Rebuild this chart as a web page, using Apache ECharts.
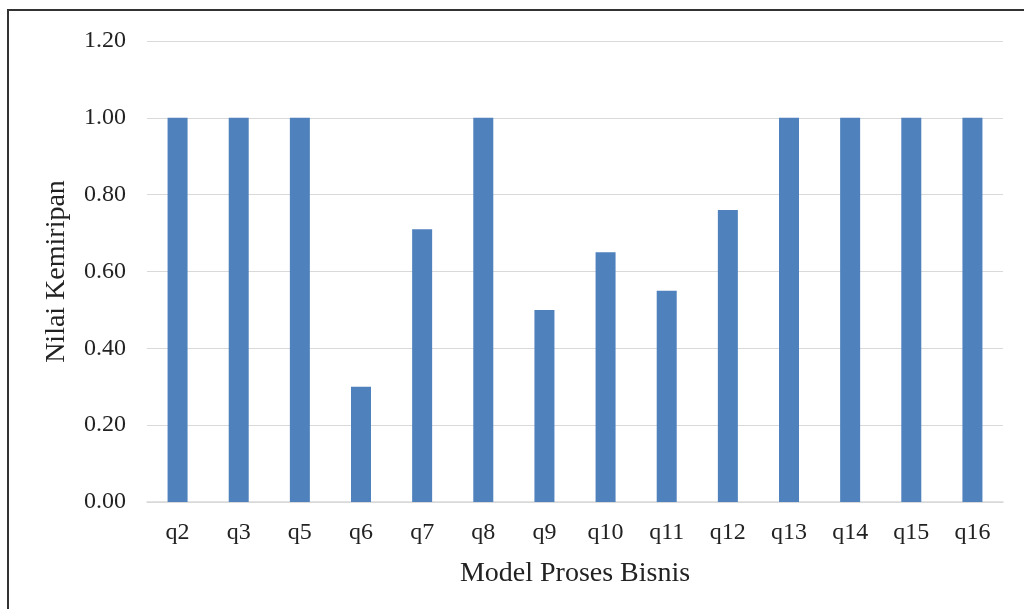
<!DOCTYPE html>
<html><head><meta charset="utf-8">
<script src="https://cdn.jsdelivr.net/npm/echarts@6/dist/echarts.min.js"></script>
<style>
html,body{margin:0;padding:0;background:#fff;overflow:hidden;}
#frame{position:absolute;left:7px;top:9px;width:1030px;height:620px;border:2px solid #333;border-bottom:none;border-right:none;box-sizing:border-box;}
#chart{position:absolute;left:0;top:0;width:1024px;height:609px;}
</style></head>
<body>
<div id="frame"></div>
<div id="chart"></div>
<script>
const categories = ['q2','q3','q5','q6','q7','q8','q9','q10','q11','q12','q13','q14','q15','q16'];
const values = [1.00,1.00,1.00,0.30,0.71,1.00,0.50,0.65,0.55,0.76,1.00,1.00,1.00,1.00];
const yTitle = 'Nilai Kemiripan';
const xTitle = 'Model Proses Bisnis';
const font = '"Liberation Serif","Times New Roman",serif';
const chart = echarts.init(document.getElementById('chart'), null, {renderer:'canvas'});
chart.setOption({
  animation:false,
  backgroundColor:'transparent',
  grid:{left:147,right:21,top:41,bottom:107,containLabel:false},
  xAxis:{
    type:'category', data:categories,
    axisLine:{lineStyle:{color:'#d9d9d9',width:1.5}},
    axisTick:{show:false},
    axisLabel:{color:'#222',fontFamily:font,fontSize:24,margin:19},
    name:xTitle, nameLocation:'middle', nameGap:58,
    nameTextStyle:{color:'#222',fontFamily:font,fontSize:28}
  },
  yAxis:{
    type:'value', min:0, max:1.2, interval:0.2,
    axisLine:{show:false}, axisTick:{show:false},
    splitLine:{lineStyle:{color:'#d9d9d9',width:1.2}},
    axisLabel:{color:'#222',fontFamily:font,fontSize:24,margin:21,formatter:v=>v.toFixed(2)},
    name:yTitle, nameLocation:'middle', nameGap:76, nameRotate:90,
    nameTextStyle:{color:'#222',fontFamily:font,fontSize:28}
  },
  series:[{type:'bar',data:values,barWidth:20,itemStyle:{color:'#4f81bd'}}]
});
</script>
</body></html>
